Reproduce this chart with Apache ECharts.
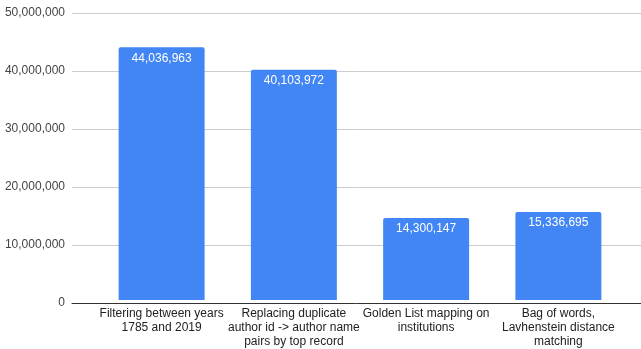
<!DOCTYPE html>
<html>
<head>
<meta charset="utf-8">
<script src="https://cdn.jsdelivr.net/npm/echarts@6/dist/echarts.min.js"></script>
<style>
  html, body { margin: 0; padding: 0; background: #ffffff; }
  #chart { width: 641px; height: 349px; }
</style>
</head>
<body>
<div id="chart"></div>
<script>
// Processing steps and the record count left after each one
const categories = [
  'Filtering between years\n1785 and 2019',
  'Replacing duplicate\nauthor id -> author name\npairs by top record',
  'Golden List mapping on\ninstitutions',
  'Bag of words,\nLavhenstein distance\nmatching'
];
const recordCounts = [44036963, 40103972, 14300147, 15336695];
const yTicks = [0, 10000000, 20000000, 30000000, 40000000, 50000000];

const fmt = v => Number(v).toLocaleString('en-US');
const font = 'Arial, "Liberation Sans", sans-serif';

const chart = echarts.init(document.getElementById('chart'), null, { renderer: 'canvas' });
chart.setOption({
  animation: false,
  backgroundColor: '#ffffff',
  grid: [
    // full-width frame for the value axis and gridlines
    { left: 72, right: 0, top: 13, bottom: 46, containLabel: false },
    // inner area holding the bars
    { left: 95.5, right: 16.5, top: 13, bottom: 46, containLabel: false }
  ],
  xAxis: [
    {
      gridIndex: 0, type: 'category', data: [''],
      axisLine: { show: true, lineStyle: { color: '#333333', width: 1 } },
      axisTick: { show: false }, axisLabel: { show: false }, splitLine: { show: false }
    },
    {
      gridIndex: 1, type: 'category', data: categories,
      axisLine: { show: false }, axisTick: { show: false },
      axisLabel: {
        interval: 0, margin: 7, color: '#222222', fontSize: 12,
        lineHeight: 14, fontFamily: font, align: 'center'
      }
    }
  ],
  yAxis: [
    {
      gridIndex: 0, type: 'value', min: yTicks[0], max: yTicks[yTicks.length - 1],
      interval: yTicks[1] - yTicks[0],
      axisLine: { show: false }, axisTick: { show: false },
      axisLabel: { formatter: fmt, color: '#444444', fontSize: 12, fontFamily: font, margin: 7 },
      splitLine: { show: true, lineStyle: { color: '#cccccc', width: 1 } }
    },
    {
      gridIndex: 1, type: 'value', min: yTicks[0], max: yTicks[yTicks.length - 1],
      interval: yTicks[1] - yTicks[0],
      show: false, splitLine: { show: false }
    }
  ],
  series: [
    {
      type: 'bar', xAxisIndex: 1, yAxisIndex: 1,
      data: recordCounts,
      barWidth: '65%',
      itemStyle: { color: '#4285f4', borderRadius: [2, 2, 0, 0] },
      label: {
        show: true, position: 'insideTop', distance: 5,
        formatter: p => fmt(p.value),
        color: '#ffffff', fontSize: 12, fontFamily: font
      }
    }
  ]
});
</script>
</body>
</html>
